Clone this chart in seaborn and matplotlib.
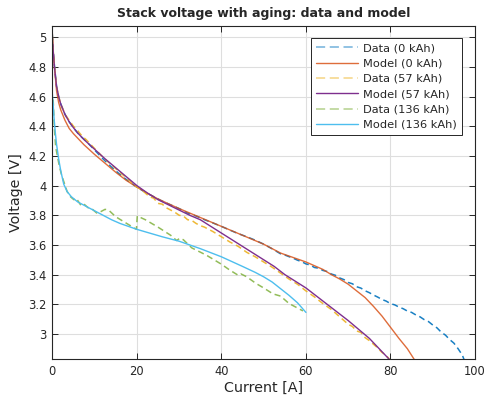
import numpy as np
import pandas as pd
import seaborn as sns
import matplotlib
matplotlib.use("Agg")
import matplotlib.pyplot as plt

# ---- data ----
# Data (0 kAh)
i_data0 = [0, 0.2, 0.5, 1, 1.5, 2, 3, 4, 5, 6, 7, 8, 10, 12, 14, 16, 18, 20,
           22, 24, 26, 28, 30, 32, 34, 36, 38, 40, 42, 44, 46, 48, 50, 52,
           54, 55, 56, 57, 58, 59, 60, 61, 62, 63, 64, 65, 66, 67, 68, 69,
           70, 71, 72, 73, 74, 75, 76, 77, 78, 79, 80, 81, 82, 83, 84, 85,
           86, 87, 88, 89, 90, 91, 92, 93, 94, 95, 96, 97, 97.5]
v_data0 = [5.02, 4.92, 4.81, 4.67, 4.60, 4.55, 4.48, 4.43, 4.39, 4.355, 4.325, 4.30,
           4.24, 4.18, 4.125, 4.075, 4.03, 3.99, 3.955, 3.925, 3.895, 3.87,
           3.845, 3.815, 3.795, 3.77, 3.748, 3.725, 3.70, 3.676, 3.655, 3.632,
           3.605, 3.574, 3.540, 3.532, 3.521, 3.510, 3.497, 3.487, 3.472, 3.465,
           3.448, 3.443, 3.428, 3.421, 3.404, 3.395, 3.377, 3.366, 3.347, 3.338,
           3.318, 3.309, 3.291, 3.278, 3.262, 3.248, 3.232, 3.221, 3.204, 3.196,
           3.181, 3.170, 3.154, 3.145, 3.128, 3.115, 3.096, 3.083, 3.060, 3.041,
           3.012, 2.992, 2.962, 2.938, 2.900, 2.857, 2.82]

# Model (0 kAh)
i_model0 = [0, 0.2, 0.5, 1, 1.5, 2, 3, 4, 5, 6, 7.5, 10, 12.5, 15, 17.5, 20,
            22.5, 25, 27.5, 30, 32.5, 35, 37.5, 40, 42.5, 45, 47.5, 50, 52,
            54, 56, 58, 60, 62, 64, 66, 68, 70, 72, 74, 76, 78, 80, 82, 84, 85.8]
v_model0 = [5.03, 4.92, 4.80, 4.64, 4.56, 4.51, 4.44, 4.385, 4.35, 4.32, 4.275,
            4.21, 4.15, 4.09, 4.035, 3.99, 3.948, 3.91, 3.877, 3.845, 3.815,
            3.785, 3.755, 3.725, 3.695, 3.665, 3.635, 3.605, 3.575, 3.545,
            3.525, 3.505, 3.485, 3.46, 3.435, 3.40, 3.37, 3.335, 3.29, 3.245,
            3.185, 3.12, 3.045, 2.97, 2.90, 2.82]

# Data (57 kAh)
i_data57 = [0, 0.2, 0.5, 1, 1.5, 2, 3, 4, 5, 6, 7, 8, 10, 12, 14, 16, 18, 20,
            21, 22, 23, 24, 25, 26, 27, 28, 29, 30, 31, 32, 33, 34, 35, 36,
            38, 40, 42, 44, 46, 48, 50, 52, 54, 56, 58, 60, 62, 64, 66, 68,
            70, 71, 72, 73, 74, 75, 76, 77, 78, 79, 80]
v_data57 = [5.0, 4.9, 4.80, 4.67, 4.60, 4.55, 4.48, 4.44, 4.40, 4.37, 4.335,
            4.31, 4.25, 4.19, 4.14, 4.09, 4.04, 3.99, 3.975, 3.95, 3.925, 3.915,
            3.88, 3.875, 3.85, 3.835, 3.82, 3.80, 3.795, 3.77, 3.765, 3.745,
            3.73, 3.72, 3.69, 3.655, 3.62, 3.59, 3.55, 3.52, 3.485, 3.45,
            3.41, 3.37, 3.335, 3.29, 3.25, 3.205, 3.165, 3.115, 3.065, 3.05,
            3.02, 3.01, 2.975, 2.955, 2.93, 2.905, 2.875, 2.855, 2.82]

# Model (57 kAh)
i_model57 = [0, 0.2, 0.5, 1, 1.5, 2, 3, 4, 5, 6, 7.5, 10, 12.5, 15, 17.5, 20,
             22.5, 25, 27.5, 30, 32.5, 35, 37.5, 40, 42.5, 45, 47.5, 50, 52.5,
             55, 57.5, 60, 62.5, 65, 67.5, 70, 72.5, 75, 77.5, 80]
v_model57 = [5.0, 4.91, 4.80, 4.67, 4.60, 4.55, 4.48, 4.43, 4.39, 4.355, 4.31,
             4.245, 4.18, 4.12, 4.06, 4.00, 3.95, 3.905, 3.87, 3.835, 3.80,
             3.77, 3.725, 3.68, 3.635, 3.59, 3.545, 3.50, 3.455, 3.40, 3.355,
             3.31, 3.255, 3.20, 3.145, 3.09, 3.03, 2.97, 2.895, 2.82]

# Data (136 kAh)
i_data136 = [0.2, 0.5, 0.8, 1.2, 1.6, 2.2, 2.8, 3.5, 4.3, 5.1, 5.6, 6.0, 6.8,
             7.5, 8.5, 9.5, 10.5, 11.5, 12.5, 13.5, 15, 17, 19.9, 20.1, 22,
             25, 28, 29.4, 30.2, 31, 33, 36.5, 40, 42, 44, 44.6, 46, 48.2, 50,
             52.2, 54, 56, 59.3]
v_data136 = [4.58, 4.38, 4.26, 4.20, 4.14, 4.07, 4.02, 3.96, 3.925, 3.905,
             3.915, 3.90, 3.865, 3.875, 3.85, 3.84, 3.815, 3.825, 3.84, 3.83,
             3.79, 3.755, 3.705, 3.795, 3.77, 3.72, 3.665, 3.63, 3.645, 3.635,
             3.58, 3.53, 3.47, 3.43, 3.395, 3.405, 3.385, 3.34, 3.31, 3.27,
             3.255, 3.205, 3.155]

# Model (136 kAh)
i_model136 = [0, 0.2, 0.4, 0.7, 1.0, 1.5, 2.0, 2.7, 3.5, 4.5, 6, 8, 10, 12,
              14, 16, 18, 20, 23, 26, 30, 35, 40, 45, 48, 50, 52, 54, 56, 58, 60]
v_model136 = [4.62, 4.55, 4.46, 4.36, 4.28, 4.18, 4.10, 4.01, 3.96, 3.925,
              3.89, 3.86, 3.83, 3.80, 3.77, 3.745, 3.725, 3.705, 3.68, 3.655,
              3.625, 3.575, 3.52, 3.455, 3.415, 3.385, 3.35, 3.305, 3.26, 3.21,
              3.145]

series = [
    ("Data (0 kAh)", i_data0, v_data0, "#0072BD", "--", 0.9),
    ("Model (0 kAh)", i_model0, v_model0, "#D95319", "-", 0.85),
    ("Data (57 kAh)", i_data57, v_data57, "#EDB120", "--", 0.9),
    ("Model (57 kAh)", i_model57, v_model57, "#7E2F8E", "-", 1.0),
    ("Data (136 kAh)", i_data136, v_data136, "#77AC30", "--", 0.8),
    ("Model (136 kAh)", i_model136, v_model136, "#4DBEEE", "-", 1.0),
]

sns.set_theme(style="whitegrid")
plt.rcParams["font.family"] = ["DejaVu Sans"]

fig, ax = plt.subplots(figsize=(4.87, 3.97), dpi=100)
fig.subplots_adjust(left=0.1074, right=0.9754, bottom=0.095, top=0.9353)

for name, xs, ys, col, ls, a in series:
    df = pd.DataFrame({"I": xs, "V": ys})
    sns.lineplot(data=df, x="I", y="V", ax=ax, color=col, alpha=a,
                 linewidth=1.1 if ls == "--" else 1.0, label=name,
                 estimator=None, sort=False)
    if ls == "--":
        ax.lines[-1].set_dashes((4, 2.5))

ax.set_xlim(0, 100)
ax.set_ylim(2.829, 5.078)
ax.set_xticks(np.arange(0, 101, 20))
ax.set_yticks(np.arange(3, 5.01, 0.2))
ax.set_yticklabels([f"{t:g}" for t in np.round(np.arange(3, 5.01, 0.2), 1)])

ax.set_facecolor("white")
ax.grid(True, color="#dedede", linewidth=0.8)
for s in ax.spines.values():
    s.set_color("#262626")
    s.set_linewidth(0.8)
ax.tick_params(direction="in", length=4, width=0.7, color="#262626",
               labelsize=8.3, labelcolor="#262626", top=True, right=True,
               bottom=True, left=True, pad=4)

ax.set_title("Stack voltage with aging: data and model", fontsize=9,
             fontweight="bold", pad=6)
ax.set_xlabel("Current [A]", fontsize=10.3, color="#262626", labelpad=2)
ax.set_ylabel("Voltage [V]", fontsize=10.3, color="#262626", labelpad=4)

leg = ax.legend(loc="upper right", bbox_to_anchor=(0.969, 0.963), fontsize=8.2,
                frameon=True, fancybox=False, edgecolor="#262626",
                handlelength=3.7, labelspacing=0.47, borderpad=0.45,
                handletextpad=0.45, borderaxespad=0)
leg.get_frame().set_linewidth(0.7)
leg.get_frame().set_alpha(1)
for h in leg.get_lines():
    if h.get_linestyle() == "--":
        h.set_alpha(0.55)
        h.set_dashes((6, 3))

fig.savefig("out.png", dpi=100)
